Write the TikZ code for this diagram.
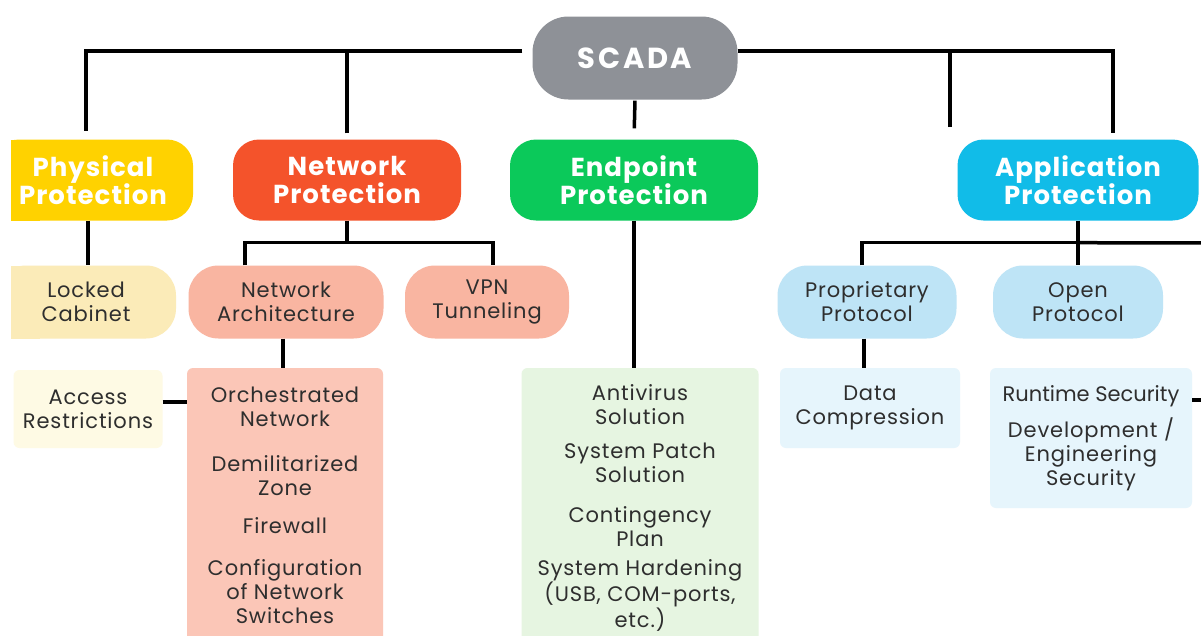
\documentclass[tikz,border=0pt]{standalone}
\usepackage{fontspec}
\setmainfont{Poppins}[LetterSpace=4]
\usetikzlibrary{positioning,calc}

\definecolor{scadagray}{HTML}{8E9197}
\definecolor{physyellow}{HTML}{FFD200}
\definecolor{netred}{HTML}{F4532B}
\definecolor{endgreen}{HTML}{0BC95A}
\definecolor{appcyan}{HTML}{11BCE8}
\definecolor{lockfill}{HTML}{FBEBB8}
\definecolor{accessfill}{HTML}{FEFAE4}
\definecolor{salmon}{HTML}{F9B5A1}
\definecolor{salmonlight}{HTML}{FBC6B7}
\definecolor{greenlight}{HTML}{E6F5E1}
\definecolor{protoblue}{HTML}{BEE4F6}
\definecolor{bluelight}{HTML}{E6F5FC}
\definecolor{textgray}{HTML}{2E2E2E}

\begin{document}
\begin{tikzpicture}[
    x=1pt, y=-1pt,
    head/.style={rectangle, rounded corners=26pt, minimum height=81pt, align=center, text=white, font=\fontsize{26}{28}\selectfont\bfseries},
    pill/.style={rectangle, rounded corners=30pt, minimum height=73pt, align=center, text=textgray, font=\fontsize{21}{24}\selectfont},
    panel/.style={rectangle, rounded corners=6pt, inner xsep=3pt, align=center, text=textgray, font=\fontsize{21}{24}\selectfont},
    link/.style={line width=3.5pt, black}
]

\useasboundingbox (0,0) rectangle (1201,635);
\fill[white] (0,0) rectangle (1201,635);
\clip (11,0) rectangle (1201,635);

% Root node
\node[head, fill=scadagray, minimum width=205pt, minimum height=83pt, rounded corners=36pt, font=\fontsize{29}{30}\selectfont\bfseries\addfontfeature{LetterSpace=9}] (scada) at (635,58) {SCADA};

% Protection layers (left ones run off the page edge)
\fill[physyellow] (-10,139.5) rectangle (40,220.5);
\node[head, fill=physyellow, minimum width=200pt] (phys) at (93,180) {Physical\\Protection};
\node[head, fill=netred, minimum width=228pt] (net) at (347,180) {Network\\Protection};
\node[head, fill=endgreen, minimum width=248pt] (endp) at (634,180) {Endpoint\\Protection};
\node[head, fill=appcyan, minimum width=241pt] (app) at (1078,180) {Application\\Protection};

% Second level
\fill[lockfill] (-10,265.5) rectangle (40,338.5);
\node[pill, fill=lockfill, minimum width=180pt] (lock) at (86,302) {Locked\\Cabinet};
\node[pill, fill=salmon, minimum width=195pt] (netarch) at (286,302) {Network\\Architecture};
\node[pill, fill=salmon, minimum width=164pt] (vpn) at (487,302) {VPN\\Tunneling};
\node[pill, fill=protoblue, minimum width=179pt] (prop) at (867,302) {Proprietary\\Protocol};
\node[pill, fill=protoblue, minimum width=170pt] (open) at (1078,302) {Open\\Protocol};

% Third level panels
\node[panel, fill=accessfill, minimum width=149pt, minimum height=78pt] (access) at (88,409) {Access\\Restrictions};
\node[panel, fill=salmonlight, minimum width=196pt, minimum height=274pt] (orch) at (285,505)
    {Orchestrated\\Network\\[21pt]Demilitarized\\Zone\\[14pt]Firewall\\[18pt]Configuration\\of Network\\Switches};
\node[panel, fill=greenlight, minimum width=237pt, minimum height=280pt] (endbox) at (640,508)
    {Antivirus\\Solution\\[10pt]System Patch\\Solution\\[16pt]Contingency\\Plan\\[5pt]System Hardening\\(USB, COM-ports,\\etc.)};
\node[panel, fill=bluelight, minimum width=180pt, minimum height=80pt] (datacomp) at (870,408) {Data\\Compression};
\node[panel, fill=bluelight, minimum width=202pt, minimum height=140pt] (runtime) at (1091,438)
    {{\addfontfeature{LetterSpace=0}Runtime Security}\\[10pt]Development /\\Engineering\\Security};

% Connectors from the root
\coordinate (scadaL) at ([yshift=7pt]scada.west);
\coordinate (scadaR) at ([yshift=7pt]scada.east);
\coordinate (stub) at (950,127);
\draw[link, shorten >=8pt] ([xshift=-10pt]scadaL) -| ([xshift=-7pt]phys.north);
\draw[link, shorten <=6pt] (net.north) -- (net.north |- scadaL);
\draw[link, shorten <=1pt, shorten >=11pt] (scada.south) -- (endp.north);
\draw[link, shorten >=6pt] (scadaR) -| ([xshift=35pt]app.north);
\draw[link] (stub) -- (stub |- scadaR);

% Physical branch
\draw[link] ([xshift=-5pt]phys.south) -- ([xshift=-5pt]phys.south |- lock.north);
\draw[link] ([yshift=7pt]access.east) -- ([yshift=7pt]access.east -| orch.west);

% Network branch
\draw[link] (net.south) -- ++(0,22) coordinate (netbar);
\draw[link] ([xshift=-41pt]netarch.north) |- (netbar) -| ([xshift=6pt]vpn.north);
\draw[link] ([xshift=-3pt]netarch.south) -- ([xshift=-3pt]netarch.south |- orch.north);

% Endpoint branch
\draw[link] (endp.south) -- (endp.south |- endbox.north);

% Application branch
\coordinate (edgeR) at (1210,243);
\draw[link] (app.south) -- ++(0,22) coordinate (appbar);
\draw[link] ([xshift=-5pt]prop.north) |- (appbar) -- (open.north);
\draw[link] (appbar) -- (edgeR);
\draw[link] ([xshift=-3pt]prop.south) -- ([xshift=-3pt]prop.south |- datacomp.north);
\draw[link] ([yshift=-32pt]runtime.north east) -- ++(12,0);

\end{tikzpicture}
\end{document}
